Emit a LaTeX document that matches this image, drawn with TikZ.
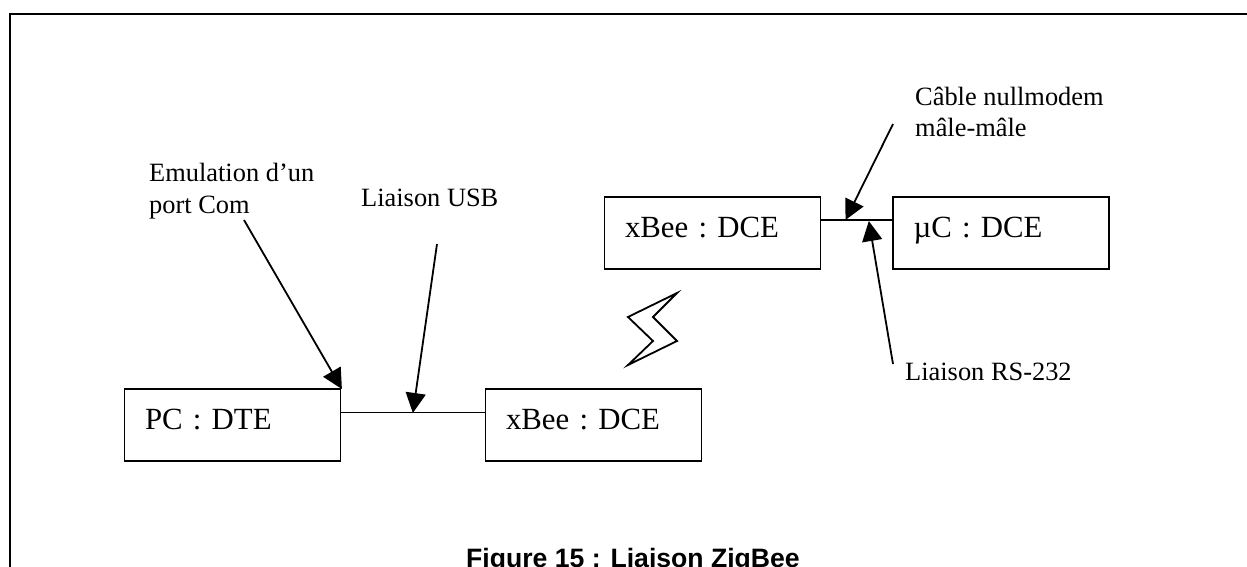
\documentclass[tikz,border=0pt]{standalone}
\usepackage{fontspec}
\setmainfont{Liberation Serif}
\setsansfont{Liberation Sans}
\usetikzlibrary{arrows.meta}

\tikzset{
	boite/.style={draw, line width=1.8pt, minimum width=216pt, minimum height=72pt, inner xsep=0pt, inner ysep=0pt, text width=175pt, align=left, text height=21pt, text depth=13pt, font=\frenchspacing\fontsize{30.8}{32}\selectfont},
	legende/.style={anchor=base west, inner sep=0pt, align=left, font=\frenchspacing\fontsize{26.4}{31.5}\selectfont},
	fleche/.style={line width=1.8pt, -{Triangle[length=20pt,width=20pt]}, shorten >=-1pt},
	liaison/.style={line width=1.8pt},
}

\begin{document}
\begin{tikzpicture}[x=1pt, y=-1pt]
	\useasboundingbox (0,0) rectangle (1247,567);
	\draw[line width=2pt] (10,600) -- (10,14) -- (1260,14);

	\node[boite] (pc) at (232.5,425) {PC : DTE};
	\node[boite] (xbeeA) at (593.5,425) {xBee : DCE};
	\node[boite] (xbeeB) at (712.5,233) {xBee : DCE};
	\node[boite] (uc) at (1001,233) {µC : DCE};

	\draw[liaison] ([yshift=12.5pt]pc.east) -- ([yshift=12.5pt]xbeeA.west);
	\draw[liaison] ([yshift=13pt]xbeeB.east) -- ([yshift=13pt]uc.west);

	\node[legende] (emul) at (149,213) {Emulation d’un\\port Com};
	\node[legende] (lusb) at (361,206) {Liaison USB};
	\node[legende] (cable) at (915,137) {Câble nullmodem\\mâle-mâle};
	\node[legende] (rs) at (905,380) {Liaison RS-232};

	\coordinate (d1) at (244,220);
	\coordinate (d2) at (437,244);
	\coordinate (d3) at (893,124);
	\coordinate (d4) at (893,364);
	\coordinate (f2) at (413,412);
	\coordinate (f3) at (846,219);
	\coordinate (f4) at (869,222);

	\draw[fleche] (d1) -- (pc.north east);
	\draw[fleche] (d2) -- (f2);
	\draw[fleche] (d3) -- (f3);
	\draw[fleche] (d4) -- (f4);

	% eclair
	\draw[line width=1.8pt, miter limit=10] (677,293) -- (653,317) -- (677,341) -- (628,365) -- (653,341) -- (628,317) -- cycle;

	\node[anchor=base, inner sep=0pt, font=\sffamily\bfseries\fontsize{26.6}{27}\selectfont] (titre) at (633,567) {Figure 15 : Liaison ZigBee};
\end{tikzpicture}
\end{document}
